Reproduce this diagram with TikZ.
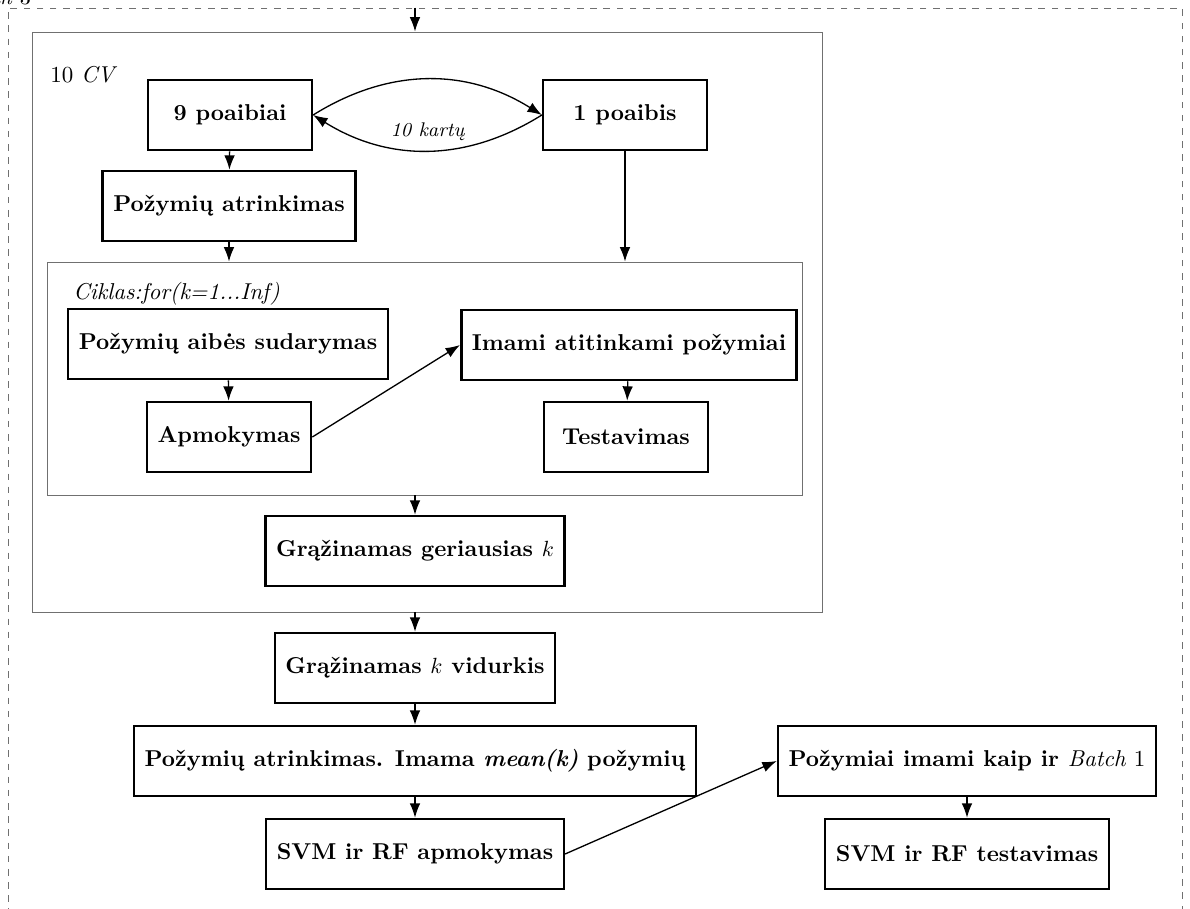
\documentclass[tikz,border=0pt]{standalone}
\usepackage{fontspec}
\usepackage{xcolor}
\usepackage{tikz}
\usetikzlibrary{arrows.meta, positioning}
\definecolor{gris}{HTML}{707070}
\tikzset{
  caja/.style={draw=black, line width=1.15pt, minimum width=2.62cm, minimum height=1.12cm,
               font=\fontsize{10.45}{12.5}\selectfont\bfseries, align=center, inner xsep=0.17cm},
  marco/.style={draw=gris, thin, inner sep=0pt},
  marcod/.style={draw=gris, thin, dashed, inner sep=0pt},
  flecha/.style={-{Latex[length=2.3mm, width=1.7mm]}, semithick},
  etiqueta/.style={font=\fontsize{10.45}{12.5}\selectfont\itshape, anchor=west, inner sep=0pt},
}

\begin{document}
\begin{tikzpicture}
  \useasboundingbox (0,0) rectangle (19.04,-14.544);
  % marcos
  \node[marcod, minimum width=18.784cm, minimum height=14.872cm] (lote) at (9.52,-7.564) {};
  \node[font=\itshape, anchor=base east, inner sep=0pt] (nlote) at (0.5,-0.07) {Batch \upshape 3};
  \node[marco, minimum width=12.64cm, minimum height=9.28cm] (cv) at (6.832,-5.152) {};
  \node[etiqueta, font=\fontsize{10.45}{12.5}\selectfont] (ncv) at (0.8,-1.2) {10 \textit{CV}};
  \node[marco, minimum width=12.08cm, minimum height=3.728cm] (ciclo) at (6.792,-6.056) {};
  \node[etiqueta] (nciclo) at (1.168,-4.704) {Ciklas:for(k=1...Inf)};
  % cajas
  \node[caja] (p9) at (3.68,-1.84) {9 poaibiai};
  \node[caja] (p1) at (10.0,-1.84) {1 poaibis};
  \node[caja] (atr) at (3.664,-3.296) {Požymių atrinkimas};
  \node[caja] (aibe) at (3.648,-5.504) {Požymių aibės sudarymas};
  \node[caja] (apm) at (3.664,-6.992) {Apmokymas};
  \node[caja] (imami) at (10.064,-5.52) {Imami atitinkami požymiai};
  \node[caja] (test) at (10.016,-6.992) {Testavimas};
  \node[caja] (geri) at (6.64,-8.816) {Grąžinamas geriausias $k$};
  \node[caja] (vid) at (6.64,-10.688) {Grąžinamas $k$ vidurkis};
  \node[caja] (mean) at (6.64,-12.176) {Požymių atrinkimas. Imama \textit{mean(k)} požymių};
  \node[caja] (svma) at (6.64,-13.664) {SVM ir RF apmokymas};
  \node[caja] (kaip) at (15.472,-12.176) {Požymiai imami kaip ir \textmd{\textit{Batch} 1}};
  \node[caja] (svmt) at (15.472,-13.664) {SVM ir RF testavimas};
  % flechas
  \draw[flecha] (lote.north -| geri) -- (cv.north -| geri);
  \draw[flecha] (p9.east) to[bend left=32] (p1.west);
  \draw[flecha] (p1.west) to[bend left=32] node[midway, above=1pt, font=\small\itshape] (veces) {10 kartų} (p9.east);
  \draw[flecha] (p9) -- (atr);
  \draw[flecha] (atr) -- (atr |- ciclo.north);
  \draw[flecha] (p1) -- (p1 |- ciclo.north);
  \draw[flecha] (aibe) -- (apm);
  \draw[flecha] (apm.east) -- (imami.west);
  \draw[flecha] (imami) -- (test);
  \draw[flecha] (ciclo.south -| geri) -- (geri);
  \draw[flecha] (cv.south -| vid) -- (vid);
  \draw[flecha] (vid) -- (mean);
  \draw[flecha] (mean) -- (svma);
  \draw[flecha] (svma.east) -- (kaip.west);
  \draw[flecha] (kaip) -- (svmt);
\end{tikzpicture}
\end{document}
